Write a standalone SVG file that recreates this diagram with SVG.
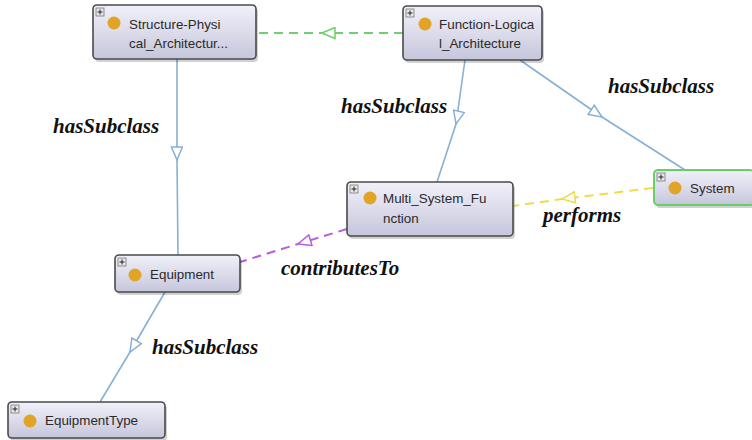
<svg xmlns="http://www.w3.org/2000/svg" width="752" height="440" viewBox="0 0 752 440">
<defs>
<linearGradient id="nodeFill" x1="0" y1="0" x2="0" y2="1">
<stop offset="0" stop-color="#f1f1fa"/>
<stop offset="1" stop-color="#c6c6dc"/>
</linearGradient>
<marker id="arrBlue" viewBox="0 0 15 13" refX="14" refY="6.5" markerWidth="15" markerHeight="13" markerUnits="userSpaceOnUse" orient="auto">
<path d="M1,1 L14,6.5 L1,12 Z" fill="#ffffff" stroke="#86b0d6" stroke-width="1.5"/>
</marker>
<marker id="arrGreen" viewBox="0 0 15 13" refX="14" refY="6.5" markerWidth="15" markerHeight="13" markerUnits="userSpaceOnUse" orient="auto">
<path d="M1,1 L14,6.5 L1,12 Z" fill="#ffffff" stroke="#6fd06f" stroke-width="1.5"/>
</marker>
<marker id="arrYellow" viewBox="0 0 15 13" refX="14" refY="6.5" markerWidth="15" markerHeight="13" markerUnits="userSpaceOnUse" orient="auto">
<path d="M1,1 L14,6.5 L1,12 Z" fill="#ffffff" stroke="#eedc4a" stroke-width="1.5"/>
</marker>
<marker id="arrPurple" viewBox="0 0 15 13" refX="14" refY="6.5" markerWidth="15" markerHeight="13" markerUnits="userSpaceOnUse" orient="auto">
<path d="M1,1 L14,6.5 L1,12 Z" fill="#ffffff" stroke="#b45ee0" stroke-width="1.5"/>
</marker>
</defs>
<style>
.box{fill:url(#nodeFill);stroke:#4a4a4a;stroke-width:1.6}
.shadow{fill:#000;opacity:0.18}
.plus{fill:#e8e8e8;stroke:#777;stroke-width:0.8}
.plusmark{stroke:#222;stroke-width:1}
.dot{fill:#e0a526}
.ntext{font-family:"Liberation Sans",Arial,sans-serif;font-size:13.4px;fill:#2a2a2a}
.lbl{font-family:"Liberation Serif","Times New Roman",serif;font-size:21px;font-weight:bold;font-style:italic;fill:#111}
.sub{fill:none;stroke:#86b0d6;stroke-width:1.6}
.green{fill:none;stroke:#6fd06f;stroke-width:2;stroke-dasharray:9,6}
.yellow{fill:none;stroke:#eedc4a;stroke-width:2;stroke-dasharray:9,6}
.purple{fill:none;stroke:#b45ee0;stroke-width:2;stroke-dasharray:9,6}
</style>
<rect width="752" height="440" fill="#ffffff"/>
<g id="connectors">
<path class="green" d="M403,33 L322,33 L257,33" marker-mid="url(#arrGreen)"/>
<path class="sub" d="M177,59 L177,160 L178,255" marker-mid="url(#arrBlue)"/>
<path class="sub" d="M465,60 L456,124 L437,182" marker-mid="url(#arrBlue)"/>
<path class="sub" d="M520,60 L602,117 L685,170" marker-mid="url(#arrBlue)"/>
<path class="yellow" d="M653,188 L562,199 L513,206" marker-mid="url(#arrYellow)"/>
<path class="purple" d="M347,229 L298,244 L240,262" marker-mid="url(#arrPurple)"/>
<path class="sub" d="M165,292 L130,352 L100,402" marker-mid="url(#arrBlue)"/>
</g>
<g id="labels">
<text class="lbl" x="53" y="133">hasSubclass</text>
<text class="lbl" x="341" y="113">hasSubclass</text>
<text class="lbl" x="608" y="93">hasSubclass</text>
<text class="lbl" x="543" y="222">performs</text>
<text class="lbl" x="281" y="275">contributesTo</text>
<text class="lbl" x="152" y="354">hasSubclass</text>
</g>
<g id="node-structure">
<rect class="shadow" x="95" y="8" width="163" height="54" rx="4"/>
<rect class="box" x="93" y="5" width="163" height="54" rx="4"/>
<rect class="plus" x="96" y="8" width="8" height="8"/>
<path class="plusmark" d="M97.5,12 H102.5 M100,9.5 V14.5"/>
<circle class="dot" cx="114" cy="23" r="6.5"/>
<text class="ntext" x="129" y="29">Structure-Physi</text>
<text class="ntext" x="129" y="48">cal_Architectur...</text>
</g>
<g id="node-function">
<rect class="shadow" x="405" y="9" width="139" height="54" rx="4"/>
<rect class="box" x="403" y="6" width="139" height="54" rx="4"/>
<rect class="plus" x="406" y="9" width="8" height="8"/>
<path class="plusmark" d="M407.5,13 H412.5 M410,10.5 V15.5"/>
<circle class="dot" cx="425" cy="24" r="6.5"/>
<text class="ntext" x="439" y="29">Function-Logica</text>
<text class="ntext" x="439" y="48">l_Architecture</text>
</g>
<g id="node-multi">
<rect class="shadow" x="349" y="185" width="166" height="54" rx="4"/>
<rect class="box" x="347" y="182" width="166" height="54" rx="4"/>
<rect class="plus" x="350" y="185" width="8" height="8"/>
<path class="plusmark" d="M351.5,189 H356.5 M354,186.5 V191.5"/>
<circle class="dot" cx="370" cy="198" r="6.5"/>
<text class="ntext" x="383" y="203">Multi_System_Fu</text>
<text class="ntext" x="383" y="223">nction</text>
</g>
<g id="node-system">
<rect class="shadow" x="656" y="173" width="100" height="35" rx="4"/>
<rect class="box" x="654" y="170" width="100" height="35" rx="4" style="stroke:#66d066;stroke-width:2"/>
<rect class="plus" x="657" y="173" width="8" height="8"/>
<path class="plusmark" d="M658.5,177 H663.5 M661,174.5 V179.5"/>
<circle class="dot" cx="675" cy="188" r="6.5"/>
<text class="ntext" x="690" y="193">System</text>
</g>
<g id="node-equipment">
<rect class="shadow" x="117" y="258" width="125" height="37" rx="4"/>
<rect class="box" x="115" y="255" width="125" height="37" rx="4"/>
<rect class="plus" x="118" y="258" width="8" height="8"/>
<path class="plusmark" d="M119.5,262 H124.5 M122,259.5 V264.5"/>
<circle class="dot" cx="135" cy="275" r="6.5"/>
<text class="ntext" x="150" y="279">Equipment</text>
</g>
<g id="node-equipmenttype">
<rect class="shadow" x="10" y="405" width="157" height="36" rx="4"/>
<rect class="box" x="8" y="402" width="157" height="36" rx="4"/>
<rect class="plus" x="11" y="405" width="8" height="8"/>
<path class="plusmark" d="M12.5,409 H17.5 M15,406.5 V411.5"/>
<circle class="dot" cx="30" cy="421" r="6.5"/>
<text class="ntext" x="45" y="425">EquipmentType</text>
</g>
</svg>
